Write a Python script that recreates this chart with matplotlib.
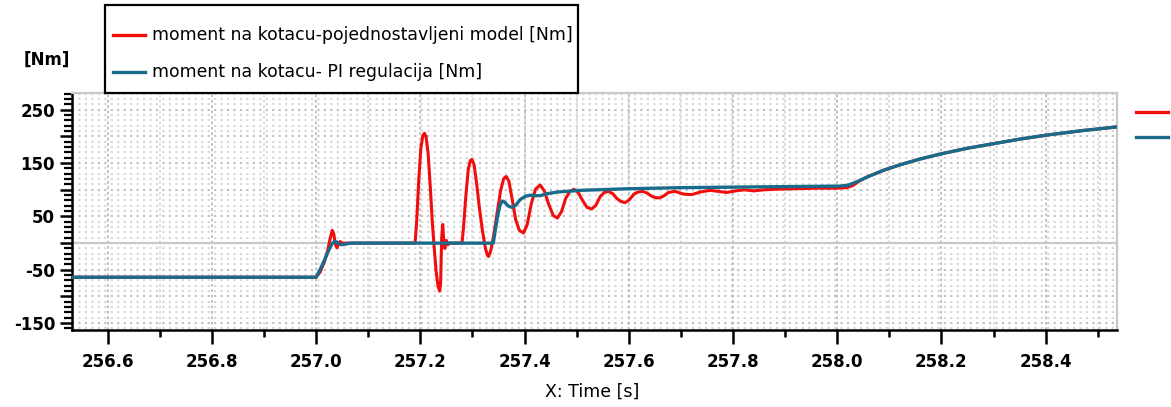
import numpy as np
import matplotlib
matplotlib.use("Agg")
import matplotlib.pyplot as plt
from matplotlib.ticker import MultipleLocator, FixedLocator
from matplotlib.lines import Line2D
from matplotlib.patches import Rectangle

# simplified model torque [Nm]
t_red = [256.53, 257.000, 257.008, 257.016, 257.022, 257.027, 257.031, 257.034, 257.037,
         257.040, 257.043, 257.046, 257.050, 257.190, 257.193, 257.197, 257.201, 257.205,
         257.208, 257.211, 257.215, 257.219, 257.223, 257.226, 257.230, 257.234, 257.237,
         257.239, 257.241, 257.243, 257.245, 257.247, 257.250, 257.253, 257.256, 257.280,
         257.283, 257.287, 257.292, 257.296, 257.299, 257.303, 257.308, 257.313, 257.319,
         257.325, 257.329, 257.331, 257.335, 257.340, 257.347, 257.354, 257.360, 257.365,
         257.370, 257.376, 257.383, 257.390, 257.398, 257.405, 257.413, 257.421, 257.430,
         257.438, 257.446, 257.455, 257.463, 257.471, 257.479, 257.487, 257.495, 257.503,
         257.512, 257.520, 257.529, 257.537, 257.545, 257.553, 257.561, 257.569, 257.577,
         257.585, 257.593, 257.601, 257.610, 257.618, 257.627, 257.635, 257.644, 257.652,
         257.660, 257.668, 257.676, 257.689, 257.705, 257.721, 257.738, 257.756, 257.772,
         257.788, 257.805, 257.822, 257.840, 257.860, 257.880, 257.920, 257.960, 258.000,
         258.018, 258.030, 258.045, 258.057, 258.070, 258.090, 258.121, 258.160, 258.202,
         258.250, 258.303, 258.350, 258.405, 258.470, 258.537]
m_red = [-64, -64, -54, -35, -15, 9, 24, 17, -2,
         -9, -2, 3, 0, 0, 40, 118, 178, 202,
         206, 200, 168, 108, 40, 0, -50, -81, -90,
         -74, 10, 35, 5, -10, 5, -3, 0, 0,
         30, 84, 138, 155, 157, 148, 113, 69, 25,
         -10, -23, -25, -15, 10, 54, 98, 121, 125,
         116, 84, 44, 24, 19, 34, 74, 101, 109,
         98, 74, 52, 47, 59, 84, 97, 101, 95,
         79, 67, 64, 71, 87, 95, 97, 93, 84,
         78, 76, 81, 92, 96, 97, 94, 88, 85,
         85, 89, 95, 97, 92, 91, 96, 99, 97,
         95, 98, 100, 98, 100, 101, 102, 103, 103,
         104, 108, 118, 124, 129, 137, 147, 158, 168,
         178, 187, 195, 203, 211, 218]

# PI regulation torque [Nm]
t_blue = [256.53, 257.000, 257.008, 257.016, 257.024, 257.030, 257.035, 257.040, 257.048,
          257.056, 257.065, 257.340, 257.344, 257.349, 257.353, 257.357, 257.362, 257.368,
          257.376, 257.383, 257.392, 257.402, 257.412, 257.420, 257.430, 257.445, 257.465,
          257.507, 257.600, 257.700, 257.800, 257.900, 258.006, 258.022, 258.040, 258.060,
          258.090, 258.121, 258.160, 258.202, 258.250, 258.303, 258.350, 258.405, 258.470,
          258.537]
m_blue = [-64, -64, -49, -32, -14, -2, 3, 2, -3,
          -2, 0, 0, 25, 54, 71, 79, 77, 70,
          67, 71, 82, 88, 90, 89, 89, 93, 96,
          99, 102, 104, 105, 106, 107, 109, 116, 125,
          137, 147, 158, 168, 178, 187, 195, 203, 211,
          218]

label_red = "moment na kotacu-pojednostavljeni model [Nm]"
label_blue = "moment na kotacu- PI regulacija [Nm]"
c_red = "#f20d0d"
c_blue = "#186b8b"

W, H = 1171, 407
fig = plt.figure(figsize=(W / 100, H / 100), dpi=100)
ax = fig.add_axes([71.7 / W, 1 - 329.5 / H, (1117 - 71.7) / W, (329.5 - 93.3) / H])

ax.set_xlim(256.531, 258.537)
ax.set_ylim(-162, 281)

# dot lattice background
for y in np.arange(-160, 281, 10):
    dark = (y % 50 == 0)
    ax.axhline(y, color="#bdbdbd" if dark else "#d6d6d6", lw=1.5,
               ls=(0, (1, 2.1)), zorder=0)
for x in np.arange(256.6, 258.54, 0.1):
    major = abs(round(x * 5) - x * 5) < 1e-6
    ax.axvline(x, color="#bcbcbc" if major else "#dadada", lw=1.3,
               ls=(0, (1.5, 1.5)), zorder=0)
ax.axhline(0, color="#c8c8c8", lw=1.6, zorder=1)

ax.plot(t_red, m_red, color=c_red, lw=2.2, zorder=3)
ax.plot(t_blue, m_blue, color=c_blue, lw=2.4, zorder=4)

# ticks
ax.xaxis.set_major_locator(MultipleLocator(0.2))
ax.xaxis.set_minor_locator(MultipleLocator(0.1))
ax.xaxis.set_major_formatter(plt.FuncFormatter(lambda v, p: f"{v:.1f}"))
ax.yaxis.set_major_locator(FixedLocator(np.arange(-150, 251, 50)))
ax.yaxis.set_minor_locator(MultipleLocator(10))
ax.yaxis.set_major_formatter(plt.FuncFormatter(lambda v, p: f"{int(v)}" if int(v) % 100 != 0 else ""))
ax.tick_params(axis="x", which="major", length=10, width=1.8, pad=7)
ax.tick_params(axis="x", which="minor", length=5, width=1.8)
ax.tick_params(axis="y", which="major", length=9, width=1.8, pad=3)
ax.tick_params(axis="y", which="minor", length=6, width=1.6)
for lab in ax.get_xticklabels() + ax.get_yticklabels():
    lab.set_fontweight("bold")
    lab.set_fontsize(12)

for s in ["left", "bottom"]:
    ax.spines[s].set_linewidth(1.8)
    ax.spines[s].set_color("black")
for s in ["top", "right"]:
    ax.spines[s].set_linewidth(1.6)
    ax.spines[s].set_color("#c8c8c8")

fig.text(47 / W, 1 - 60 / H, "[Nm]", fontsize=12, fontweight="bold", ha="center", va="center")
fig.text(592 / W, 1 - 392 / H, "X: Time [s]", fontsize=12.5, ha="center", va="center")

# legend box
fig.patches.append(Rectangle((105 / W, 1 - 93.3 / H), (578 - 105) / W, (93.3 - 5) / H,
                             transform=fig.transFigure, fill=True, facecolor="white",
                             edgecolor="black", lw=1.6, zorder=5))
for yy, col, lab in [(35, c_red, label_red), (72, c_blue, label_blue)]:
    fig.lines.append(Line2D([113 / W, 145 / W], [1 - yy / H, 1 - yy / H], color=col, lw=2.4,
                            transform=fig.transFigure, zorder=6))
    fig.text(152 / W, 1 - yy / H, lab, fontsize=12.4, ha="left", va="center", zorder=6)

# cut-off legend markers on the right
for yy, col in [(111.5, c_red), (137.3, c_blue)]:
    fig.lines.append(Line2D([1136 / W, 1168 / W], [1 - yy / H, 1 - yy / H], color=col, lw=2.4,
                            transform=fig.transFigure))

fig.savefig("out.png", dpi=100)
